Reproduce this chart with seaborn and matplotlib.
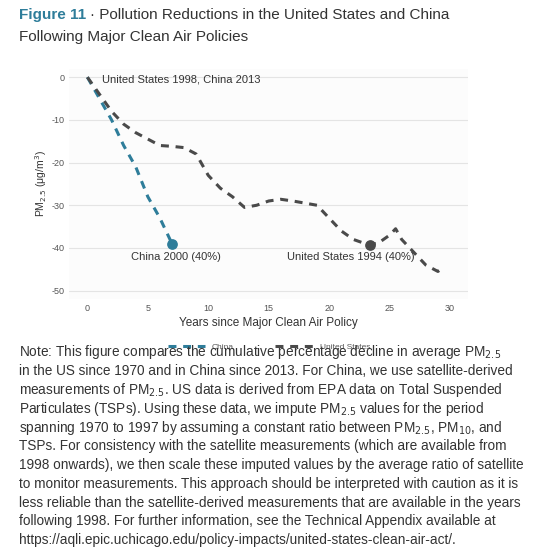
import matplotlib
matplotlib.use('Agg')
import matplotlib.pyplot as plt
import seaborn as sns
import pandas as pd

china_years = [0, 1, 2, 3, 4, 5, 6, 7]
china_pm = [0, -5, -10, -16, -21, -28, -33, -39]
us_years = [0, 1, 2, 3, 4, 5, 6, 7, 8, 9, 10, 11, 12, 13, 14, 15, 16, 17, 18, 19,
            20, 21, 22, 23, 24, 25, 25.5, 26, 27, 28, 29, 29.5]
us_pm = [0, -4, -8, -11, -13, -14.5, -16, -16.2, -16.5, -18, -23, -26, -28, -30.5,
         -30, -29, -28.6, -29, -29.5, -30, -33, -36, -38, -39, -39, -37, -35.5,
         -38, -41, -44, -45.5, -44.5]
x_ticks = [0, 5, 10, 15, 20, 25, 30]
y_ticks = [0, -10, -20, -30, -40, -50]

china_col = '#2e7d9a'
us_col = '#4a4a4a'

df = pd.concat([
    pd.DataFrame({'years': china_years, 'pm': china_pm, 'series': 'China'}),
    pd.DataFrame({'years': us_years, 'pm': us_pm, 'series': 'United States'}),
])

sns.set_theme(style='white')
plt.rcParams['font.family'] = ['Liberation Sans', 'DejaVu Sans']
plt.rcParams['axes.unicode_minus'] = False

fig = plt.figure(figsize=(5.54, 5.49), dpi=100)
ax = fig.add_axes([0.125, 0.455, 0.72, 0.42])
ax.set_facecolor('#fcfcfc')
sns.lineplot(data=df, x='years', y='pm', hue='series', palette=[china_col, us_col],
             ax=ax, linewidth=2.2, estimator=None, sort=False)
for line in ax.lines:
    line.set_dashes([2.6, 2.2])
ax.scatter([7], [-39], s=45, color=china_col, zorder=5)
ax.scatter([23.4], [-39.2], s=45, color=us_col, zorder=5)

ax.text(1.2, -0.5, 'United States 1998, China 2013', fontsize=8, color='#333333', va='center')
ax.text(3.6, -42, 'China 2000 (40%)', fontsize=8, color='#333333', va='center')
ax.text(16.5, -42, 'United States 1994 (40%)', fontsize=8, color='#333333', va='center')

ax.set_xlim(-1.5, 31.5)
ax.set_ylim(-52, 2)
ax.set_xticks(x_ticks)
ax.set_yticks(y_ticks)
ax.tick_params(labelsize=6.5, colors='#555555', length=0)
ax.yaxis.grid(True, color='#e4e4e4', linewidth=0.8)
for s in ax.spines.values():
    s.set_visible(False)
ax.set_xlabel('Years since Major Clean Air Policy', fontsize=8.5, color='#333333', labelpad=3)
ax.set_ylabel(r'PM$_{2.5}$ (μg/m$^3$)', fontsize=7.5, color='#333333', labelpad=2)

leg = ax.legend(loc='upper center', bbox_to_anchor=(0.5, -0.16), ncol=2, frameon=False,
                fontsize=6, handlelength=4.5, columnspacing=5, handleheight=0.5)
for h in leg.get_lines():
    h.set_dashes([2.6, 2.2])
    h.set_linewidth(2.2)
for t in leg.get_texts():
    t.set_color('#555555')

t1 = fig.text(0.035, 0.972, 'Figure 11', fontsize=11, fontweight='bold', color=china_col, va='center')
fig.canvas.draw()
bb = t1.get_window_extent().transformed(fig.transFigure.inverted())
fig.text(bb.x1 + 0.006, 0.972, '· Pollution Reductions in the United States and China', fontsize=11,
         color='#333333', va='center')
fig.text(0.035, 0.932, 'Following Major Clean Air Policies', fontsize=11, color='#333333', va='center')

note = [
    r'Note: This figure compares the cumulative percentage decline in average PM$_{2.5}$',
    r'in the US since 1970 and in China since 2013. For China, we use satellite-derived',
    r'measurements of PM$_{2.5}$. US data is derived from EPA data on Total Suspended',
    r'Particulates (TSPs). Using these data, we impute PM$_{2.5}$ values for the period',
    r'spanning 1970 to 1997 by assuming a constant ratio between PM$_{2.5}$, PM$_{10}$, and',
    r'TSPs. For consistency with the satellite measurements (which are available from',
    r'1998 onwards), we then scale these imputed values by the average ratio of satellite',
    r'to monitor measurements. This approach should be interpreted with caution as it is',
    r'less reliable than the satellite-derived measurements that are available in the years',
    r'following 1998. For further information, see the Technical Appendix available at',
    r'https://aqli.epic.uchicago.edu/policy-impacts/united-states-clean-air-act/.',
]
for i, line in enumerate(note):
    fig.text(0.035, 0.358 - i * 0.0342, line, fontsize=9.8, color='#333333', va='center')

fig.savefig('out.png', dpi=100)
